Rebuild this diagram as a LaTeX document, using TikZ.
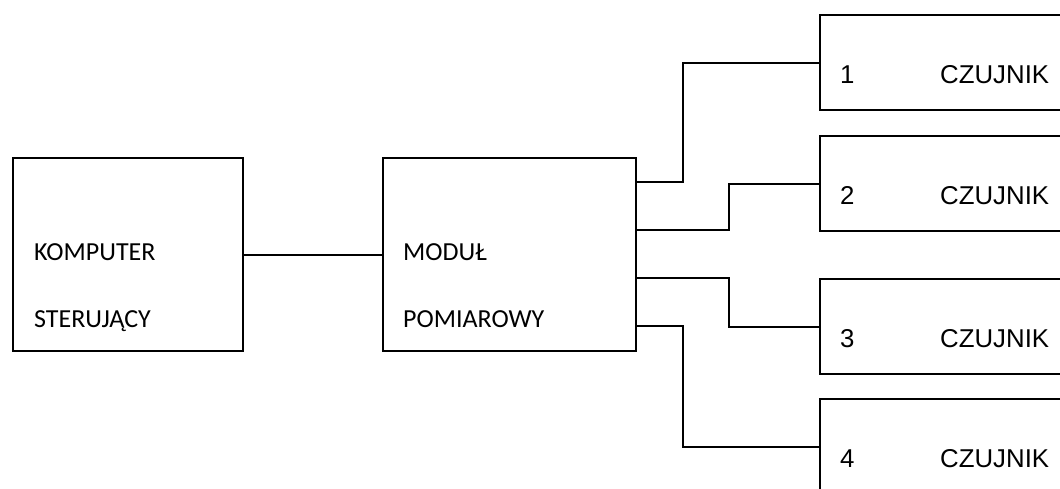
\documentclass[tikz,border=0pt]{standalone}
\usepackage{fontspec}
\setmainfont{Carlito}
\newfontfamily\arialfont{Liberation Sans}
\usepackage{tikz}
\usetikzlibrary{positioning,calc}

\begin{document}
\begin{tikzpicture}[x=1pt, y=-1pt,
        blok/.style={draw, line width=2pt, anchor=north west, inner sep=0pt},
        czujnik/.style={blok, minimum width=260pt, minimum height=95pt},
        napis/.style={anchor=base west, inner sep=0pt, font=\fontsize{26}{30}\selectfont},
        napisc/.style={anchor=base west, inner sep=0pt, font=\arialfont\fontsize{25.8}{30}\selectfont},
        lacze/.style={line width=2pt}
    ]
    \clip (0,0) rectangle (1060,488);

    % Bloki glowne
    \node[blok, minimum width=230pt, minimum height=193pt] (komp) at (12,157) {};
    \node[blok, minimum width=253pt, minimum height=193pt] (modul) at (382,157) {};

    \node[napis] (komp1) at (34,260) {KOMPUTER};
    \node[napis] (komp2) at (34,327) {STERUJĄCY};
    \node[napis] (modul1) at (403,260) {MODUŁ};
    \node[napis] (modul2) at (403,327) {POMIAROWY};

    % Czujniki
    \node[czujnik] (cz1) at (819,14) {};
    \node[czujnik] (cz2) at (819,135) {};
    \node[czujnik] (cz3) at (819,278) {};
    \node[czujnik] (cz4) at (819,398) {};

    \node[napisc] (n1) at ($(cz1.west)+(21,21)$) {1};
    \node[napisc] (c1) at ($(cz1.west)+(121,21)$) {CZUJNIK};
    \node[napisc] (n2) at ($(cz2.west)+(21,21)$) {2};
    \node[napisc] (c2) at ($(cz2.west)+(121,21)$) {CZUJNIK};
    \node[napisc] (n3) at ($(cz3.west)+(21,21)$) {3};
    \node[napisc] (c3) at ($(cz3.west)+(121,21)$) {CZUJNIK};
    \node[napisc] (n4) at ($(cz4.west)+(21,21)$) {4};
    \node[napisc] (c4) at ($(cz4.west)+(121,21)$) {CZUJNIK};

    % Wyjscia modulu
    \coordinate (p1) at ($(modul.north east)+(0,25)$);
    \coordinate (p2) at ($(modul.north east)+(0,73)$);
    \coordinate (p3) at ($(modul.north east)+(0,121)$);
    \coordinate (p4) at ($(modul.north east)+(0,169)$);

    % Polaczenia
    \draw[lacze] (komp.east) -- (modul.west);
    \draw[lacze] (p1) -- ++(46,0) |- (cz1.west);
    \draw[lacze] (p2) -- ++(92,0) |- (cz2.west);
    \draw[lacze] (p3) -- ++(92,0) |- (cz3.west);
    \draw[lacze] (p4) -- ++(46,0) |- (cz4.west);

\end{tikzpicture}
\end{document}
